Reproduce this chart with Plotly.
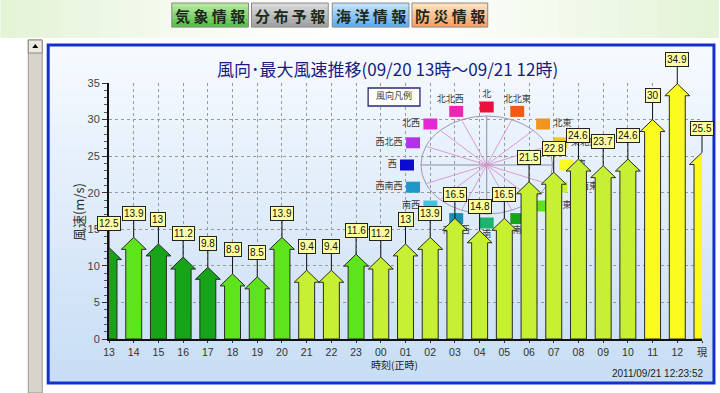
import math
import plotly.graph_objects as go

# ---------------- data ----------------
hours = ["13", "14", "15", "16", "17", "18", "19", "20", "21", "22", "23", "00",
         "01", "02", "03", "04", "05", "06", "07", "08", "09", "10", "11", "12", "現"]
speeds = [12.5, 13.9, 13, 11.2, 9.8, 8.9, 8.5, 13.9, 9.4, 9.4, 11.6, 11.2,
          13, 13.9, 16.5, 14.8, 16.5, 21.5, 22.8, 24.6, 23.7, 24.6, 30, 34.9, 25.5]
directions = ["南南東", "南東", "南南東", "南南東", "南南東", "南東", "南東", "南東",
              "東南東", "東南東", "南東", "東南東", "東南東", "東南東", "東南東", "東南東",
              "東南東", "東南東", "東南東", "東南東", "東南東", "東南東", "東", "東", "東"]
compass_names = ["北", "北北東", "北東", "東北東", "東", "東南東", "南東", "南南東",
                 "南", "南南西", "南西", "西南西", "西", "西北西", "北西", "北北西"]
compass_colors = ["#e8123c", "#f05a14", "#f0961e", "#f0c828", "#fafa1e", "#c8f032",
                  "#5ee41a", "#18a418", "#1eb46e", "#1e8cb4", "#3cc8dc", "#1e96c8",
                  "#0a0ad2", "#b432e6", "#e628d2", "#e628b4"]
dir_color = dict(zip(compass_names, compass_colors))

title_text = "風向･最大風速推移(09/20 13時～09/21 12時)"
y_title = "風速(m/s)"
x_title = "時刻(正時)"
stamp = "2011/09/21 12:23:52"
buttons = [("気 象 情 報", "#b4e89c", "#5cc04a"), ("分 布 予 報", "#d8d8d8", "#a4a4a4"),
           ("海 洋 情 報", "#bfe0fc", "#62aef2"), ("防 災 情 報", "#ffe0bc", "#f8a468")]

# ---------------- geometry ----------------
W, H = 720, 393
PL, PR, PT, PB = 109, 704, 83, 339
NX = len(hours) - 1
YMAX = 35

def pxp(x):  # pixel -> paper x
    return (x - PL) / (PR - PL)

def pyp(y):
    return (PB - y) / (PB - PT)

def dxp(x):  # pixel -> data x
    return (x - PL) / (PR - PL) * NX

def dyp(y):
    return (PB - y) / (PB - PT) * YMAX

UX = (PR - PL) / NX      # px per category
UY = (PB - PT) / YMAX    # px per m/s

FONT = "Liberation Sans, Arial, Noto Sans CJK JP, sans-serif"
JFONT = "Noto Sans CJK JP, sans-serif"
DASH = "3px,3px"

fig = go.Figure()
shapes = []
annotations = []

def note(x, y, text, size, color, family=JFONT, xanchor="center", **kw):
    annotations.append(dict(xref="paper", yref="paper", x=pxp(x), y=pyp(y), text=text,
                            showarrow=False, xanchor=xanchor, yanchor="middle",
                            font=dict(family=family, size=size, color=color), **kw))

# banner background
nb = 36
for k in range(nb):
    t = abs(k / (nb - 1) - 0.5) * 2
    g = lambda a, b: int(a + (b - a) * t ** 1.5)
    col = f"rgb({g(255, 228)},{g(255, 244)},{g(255, 214)})"
    shapes.append(dict(type="rect", xref="paper", yref="paper", layer="below",
                       x0=pxp(k * W / nb), x1=pxp((k + 1) * W / nb + 1),
                       y0=pyp(38), y1=pyp(0), line=dict(width=0), fillcolor=col))

# buttons
bx = [(172, 249), (252, 329), (333, 410), (413, 489)]
for (x0, x1), (txt, c1, c2) in zip(bx, buttons):
    for s in range(6):
        ya = 3 + s * 4
        t = s / 5
        def mix(a, b):
            a = int(a[1:], 16); b = int(b[1:], 16)
            r = [(a >> sh & 255) * (1 - t) + (b >> sh & 255) * t for sh in (16, 8, 0)]
            return "#%02x%02x%02x" % tuple(int(v) for v in r)
        shapes.append(dict(type="rect", xref="paper", yref="paper", layer="below",
                           x0=pxp(x0), x1=pxp(x1), y0=pyp(ya + 4.2), y1=pyp(ya),
                           line=dict(width=0), fillcolor=mix(c1, c2)))
    shapes.append(dict(type="rect", xref="paper", yref="paper", layer="below",
                       x0=pxp(x0), x1=pxp(x1), y0=pyp(27), y1=pyp(3),
                       line=dict(width=1, color="#8a8a8a"), fillcolor="rgba(0,0,0,0)"))
    note((x0 + x1) / 2, 15.5, f"<b>{txt}</b>", 15, "#1e2a1e")

# scrollbar
shapes.append(dict(type="rect", xref="paper", yref="paper", layer="below",
                   x0=pxp(28), x1=pxp(42), y0=pyp(393), y1=pyp(40),
                   line=dict(width=1, color="#9a968e"), fillcolor="#d8d4cc"))
shapes.append(dict(type="rect", xref="paper", yref="paper", layer="below",
                   x0=pxp(28), x1=pxp(42), y0=pyp(53), y1=pyp(40),
                   line=dict(width=1, color="#8a867e"), fillcolor="#ece9e2"))
shapes.append(dict(type="path", xref="paper", yref="paper", layer="below",
                   path=f"M {pxp(32)},{pyp(48)} L {pxp(38)},{pyp(48)} L {pxp(35)},{pyp(44)} Z",
                   line=dict(width=0), fillcolor="#000000"))

# panel gradient
nbands = 30
top, bot = 47, 382
for k in range(nbands):
    t = k / (nbands - 1)
    r = int(246 + (200 - 246) * t)
    gg = int(250 + (222 - 250) * t)
    b = int(255 + (245 - 255) * t)
    y0 = top + (bot - top) * k / nbands
    y1 = top + (bot - top) * (k + 1) / nbands + 0.8
    shapes.append(dict(type="rect", xref="paper", yref="paper", layer="below",
                       x0=pxp(49), x1=pxp(715), y0=pyp(y1), y1=pyp(y0),
                       line=dict(width=0), fillcolor=f"rgb({r},{gg},{b})"))
shapes.append(dict(type="rect", xref="paper", yref="paper", layer="below",
                   x0=pxp(48), x1=pxp(716), y0=pyp(383), y1=pyp(45),
                   line=dict(width=3, color="#1430c8"), fillcolor="rgba(0,0,0,0)"))

# ---------------- compass legend (between grid and traces) ----------------
cx, cy = 488, 165
erx, ery = 66, 49
shapes.append(dict(type="circle", xref="x", yref="y", layer="between",
                   x0=dxp(cx - erx), x1=dxp(cx + erx), y0=dyp(cy + ery), y1=dyp(cy - ery),
                   line=dict(width=1, color="#a096b4")))
for k in range(8):
    a = math.radians(k * 22.5)
    ddx, ddy = erx * math.sin(a), ery * math.cos(a)
    colr = "#8c8ca0" if k in (0, 4) else "#dc9ad2"
    shapes.append(dict(type="line", xref="x", yref="y", layer="between",
                       x0=dxp(cx - ddx), x1=dxp(cx + ddx), y0=dyp(cy + ddy), y1=dyp(cy - ddy),
                       line=dict(width=1, color=colr)))
# legend title box
shapes.append(dict(type="rect", xref="x", yref="y", layer="between",
                   x0=dxp(369), x1=dxp(421), y0=dyp(106), y1=dyp(88),
                   line=dict(width=1.3, color="#2a2a78"), fillcolor="#ffffff"))

srx, sry = 80, 58
lab_x, lab_y, lab_t = [], [], []
for k, (nm, col) in enumerate(zip(compass_names, compass_colors)):
    a = math.radians(k * 22.5)
    sx = cx + srx * math.sin(a)
    sy = cy - sry * math.cos(a)
    shapes.append(dict(type="rect", xref="x", yref="y", layer="between",
                       x0=dxp(sx - 7), x1=dxp(sx + 7), y0=dyp(sy + 5.5), y1=dyp(sy - 5.5),
                       line=dict(width=0), fillcolor=col))
    wlab = 9.5 * len(nm)
    if k in (15, 0, 1):
        lx, ly = sx - (6 if k == 15 else 0), sy - 12
    elif k in (7, 8, 9):
        lx, ly = sx, sy + 12
    else:
        sgn = 1 if math.sin(a) > 0 else -1
        lx, ly = sx + sgn * (10 + wlab / 2), sy
    lab_x.append(dxp(lx)); lab_y.append(dyp(ly)); lab_t.append(nm)
lab_x.append(dxp(395)); lab_y.append(dyp(97)); lab_t.append("風向凡例")
fig.add_trace(go.Scatter(x=lab_x, y=lab_y, text=lab_t, mode="text",
                         textfont=dict(family=JFONT, size=9, color="#3a3a3a"),
                         hoverinfo="skip", showlegend=False, cliponaxis=False))

# ---------------- arrows ----------------
sw = 8 / UX
hw = 12.5 / UX
hh = 12 / UY
for i, (v, d) in enumerate(zip(speeds, directions)):
    xs = [i - sw, i - sw, i - hw, i, i + hw, i + sw, i + sw, i - sw]
    ys = [0, v - hh, v - hh, v, v - hh, v - hh, 0, 0]
    fig.add_trace(go.Scatter(x=xs, y=ys, mode="lines", fill="toself",
                             fillcolor=dir_color[d], line=dict(color="#2a2a2a", width=1),
                             hoverinfo="skip", showlegend=False))
    annotations.append(dict(x=i, y=v, xref="x", yref="y", text=f"{v:g}",
                            showarrow=True, ax=0, ay=-24, arrowhead=0, arrowwidth=1,
                            arrowcolor="#111111", standoff=0,
                            bgcolor="#ffffa0", bordercolor="#222222", borderwidth=1,
                            borderpad=1, height=11,
                            font=dict(family=FONT, size=10, color="#111111")))

# texts
note(78, 212, y_title, 13, "#333333", textangle=-90)
note(395, 364.5, x_title, 10, "#222222")
note(707, 373, stamp, 10, "#222222", family=FONT, xanchor="right")
note(388, 68, title_text, 17, "#1a1a84")

fig.update_layout(
    width=W, height=H,
    margin=dict(l=PL, r=W - PR, t=PT, b=H - PB, pad=0),
    paper_bgcolor="#ffffff", plot_bgcolor="#ffffff",
    showlegend=False,
    shapes=shapes, annotations=annotations,
    font=dict(family=FONT, size=11, color="#333333"),
    xaxis=dict(range=[0, NX], tickvals=list(range(len(hours))), ticktext=hours,
               showgrid=True, gridcolor="#9a9a9a", griddash=DASH, gridwidth=1,
               showline=True, linecolor="#111111", linewidth=2,
               ticks="outside", ticklen=2, tickcolor="#333333",
               tickfont=dict(family=FONT, size=10.5, color="#333333"),
               zeroline=False, fixedrange=True),
    yaxis=dict(range=[0, YMAX], dtick=5, tick0=0,
               showgrid=True, gridcolor="#9a9a9a", griddash=DASH, gridwidth=1,
               showline=True, linecolor="#111111", linewidth=2,
               ticks="outside", ticklen=5, tickcolor="#333333",
               minor=dict(dtick=1, ticks="outside", ticklen=3, tickcolor="#555555", showgrid=False),
               tickfont=dict(family=FONT, size=11, color="#444444"),
               zeroline=False, fixedrange=True),
)

fig.write_html("out.html", config={"displayModeBar": False},
               post_script="document.body.style.margin='0';document.body.style.overflow='hidden';")
